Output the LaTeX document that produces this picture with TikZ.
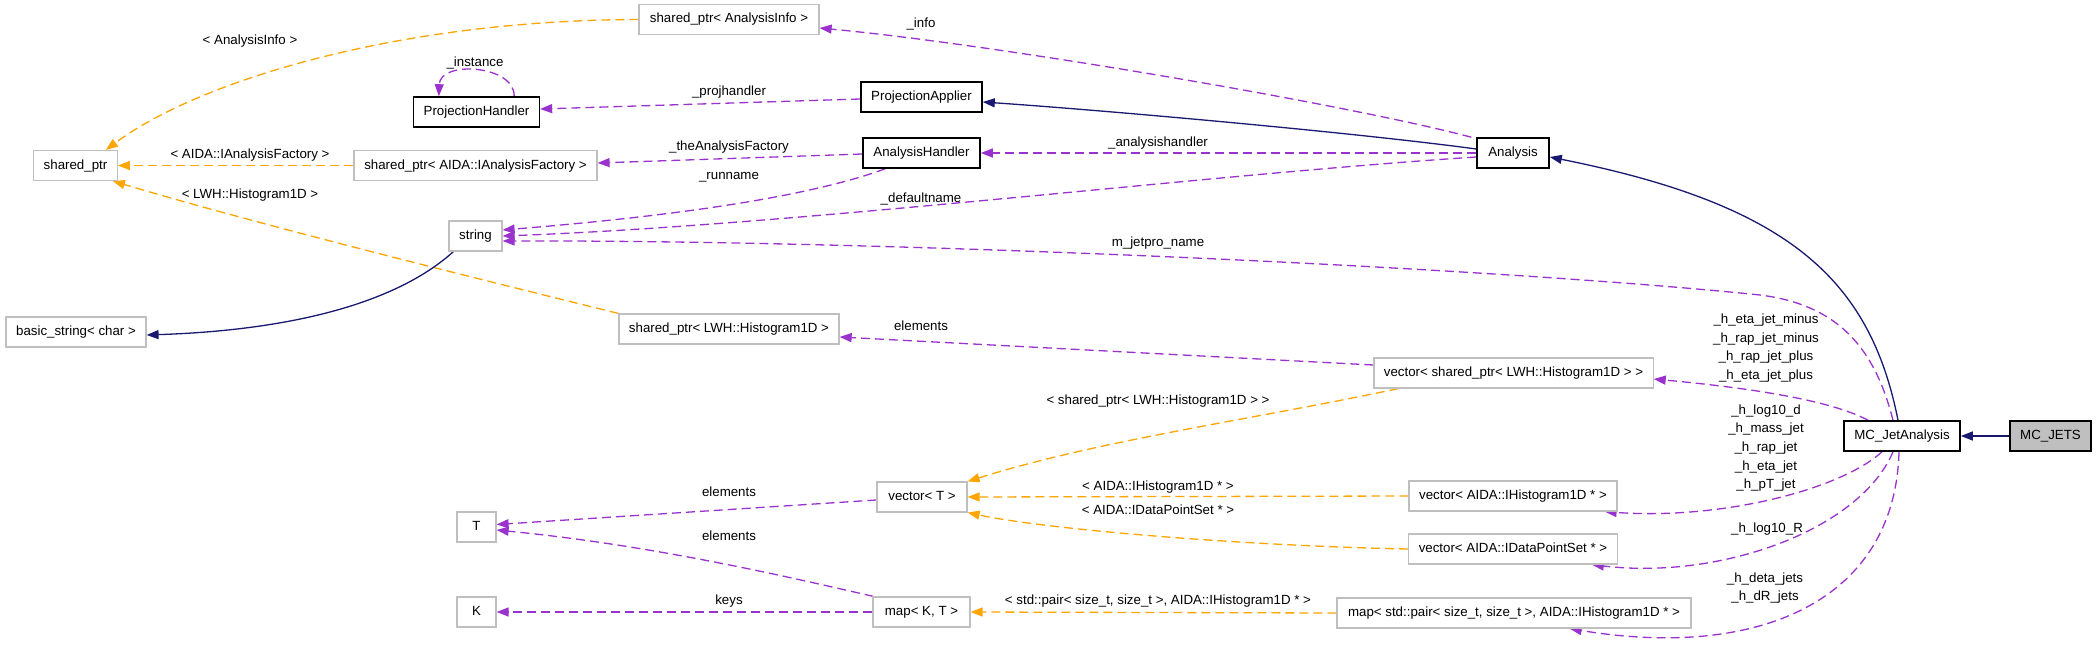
\documentclass[tikz,border=0pt]{standalone}
\usepackage{fontspec}
\setmainfont{Liberation Sans}
\usetikzlibrary{arrows.meta,calc}
\definecolor{purp}{HTML}{9A32CD}
\definecolor{orng}{HTML}{FFA500}
\definecolor{mblue}{HTML}{191970}
\definecolor{gbord}{HTML}{BFBFBF}
\pgfdeclarelayer{back}
\pgfdeclarelayer{edges}
\pgfsetlayers{back,edges,main}
\begin{document}
\begin{tikzpicture}[x=1pt,y=-1pt,
  every node/.style={font=\fontsize{13.3}{18.7}\selectfont},
  cls/.style={draw=gbord, line width=1.2pt, fill=white, minimum height=30pt,
    inner xsep=10pt, inner ysep=0pt, text height=10pt, text depth=3pt},
  doc/.style={cls, draw=black, line width=1.6pt},
  cur/.style={doc, fill=gbord},
  lbl/.style={inner sep=0pt, text height=10pt, text depth=3pt, align=center},
  mlbl/.style={inner sep=0pt, align=center},
  tip/.style={-{Triangle[length=12pt,width=9pt]}},
  pe/.style={tip, draw=purp, line width=1.3pt, dash pattern=on 9pt off 5pt},
  oe/.style={tip, draw=orng, line width=1.3pt, dash pattern=on 9pt off 5pt},
  be/.style={tip, draw=mblue, line width=1.3pt},
]
\begin{pgfonlayer}{back}
\fill[white] (0,0) rectangle (2096,653);
\end{pgfonlayer}
\useasboundingbox (0,0) rectangle (2096,653);

% nodes
\node[cls, minimum width=83pt]  (sp)    at (75.5,165.5) {shared\_ptr};
\node[doc, minimum width=125pt] (ph)    at (476.5,112) {ProjectionHandler};
\node[cls, minimum width=243pt] (spaf)  at (475.5,165.5) {shared\_ptr< AIDA::IAnalysisFactory >};
\node[cls, minimum width=53pt]  (str)   at (475.5,236) {string};
\node[cls, minimum width=180pt] (spai)  at (729,19.5) {shared\_ptr< AnalysisInfo >};
\node[cls, minimum width=140pt] (bs)    at (76,332) {basic\_string< char >};
\node[cls, minimum width=216pt] (splwh) at (729,329) {shared\_ptr< LWH::Histogram1D >};
\node[doc, minimum width=121pt] (pa)    at (921.5,97) {ProjectionApplier};
\node[doc, minimum width=117pt] (ah)    at (921.5,153) {AnalysisHandler};
\node[doc, minimum width=72pt]  (an)    at (1513,153) {Analysis};
\node[doc, minimum width=116pt] (mcja)  at (1902,436) {MC\_JetAnalysis};
\node[cur, minimum width=81pt]  (mcjets) at (2050.5,436) {MC\_JETS};
\node[cls, minimum width=277pt] (vsp)   at (1513.5,373) {vector< shared\_ptr< LWH::Histogram1D > >};
\node[cls, minimum width=208pt] (vih)   at (1513,496) {vector< AIDA::IHistogram1D * >};
\node[cls, minimum width=208pt] (vdps)  at (1513,549) {vector< AIDA::IDataPointSet * >};
\node[cls, minimum width=354pt] (mpair) at (1514,613) {map< std::pair< size\_t, size\_t >, AIDA::IHistogram1D * >};
\node[cls, minimum width=90pt]  (vt)    at (922,497) {vector< T >};
\node[cls, minimum width=97pt]  (mkt)   at (921.5,612) {map< K, T >};
\node[cls, minimum width=39pt]  (T)     at (476.5,527) {T};
\node[cls, minimum width=39pt]  (K)     at (476.5,612) {K};

\begin{pgfonlayer}{edges}
% orange template edges
\draw[oe] (spai.west) .. controls (400,20) and (200,80) .. ([xshift=-12pt]sp.north east);
\draw[oe] (spaf.west) -- (sp.east);
\draw[oe] (splwh.north west) .. controls (450,272) and (250,222) .. ([xshift=-5pt]sp.south east);
\draw[oe] ([xshift=25pt]vsp.south west) .. controls (1250,420) and (1100,440) .. (vt.north east);
\draw[oe] (vih.west) -- (vt.east);
\draw[oe] (vdps.west) .. controls (1250,546) and (1050,530) .. (vt.south east);
\draw[oe] (mpair.west) -- (mkt.east);

% purple usage edges
\draw[pe] ([xshift=-26pt]ph.north east) .. controls (515,65) and (440,60) .. ([xshift=26pt]ph.north west);
\draw[pe] ([yshift=-2pt]pa.west) -- ([yshift=3pt]ph.east);
\draw[pe] ([yshift=-1pt]ah.west) -- ([yshift=2.5pt]spaf.east);
\draw[pe] ([xshift=23pt]ah.south west) .. controls (800,200) and (650,218) .. ([yshift=6pt]str.east);
\draw[pe] ([yshift=-4pt]an.west) .. controls (1200,175) and (800,225) .. (str.east);
\draw[pe] ([xshift=-9pt]mcja.north) .. controls (1875,350) and (1840,305) .. (1760,295)
          .. controls (1500,268) and (900,240) .. ([yshift=-5pt]str.east);
\draw[pe] (an.west) -- (ah.east);
\draw[pe] ([xshift=-5pt]an.north west) .. controls (1350,105) and (1000,45) .. ([yshift=-8.5pt]spai.east);
\draw[pe] ([yshift=8pt]vsp.west) -- ([yshift=-8pt]splwh.east);
\draw[pe] ([xshift=-34pt]mcja.north) .. controls (1830,400) and (1750,388) .. ([yshift=-6pt]vsp.east);
\draw[pe] ([xshift=-20pt]mcja.south) .. controls (1840,490) and (1720,520) .. ([xshift=-13pt]vih.south east);
\draw[pe] ([xshift=-9pt]mcja.south) .. controls (1860,530) and (1720,580) .. ([xshift=-26pt]vdps.south east);
\draw[pe] ([xshift=-3pt]mcja.south) .. controls (1895,600) and (1760,660) .. ([xshift=-122pt]mpair.south east);
\draw[pe] ([yshift=-3pt]vt.west) -- ([yshift=2.5pt]T.east);
\draw[pe] ([xshift=1pt]mkt.north west) .. controls (780,575) and (650,545) .. ([yshift=-3pt]T.east);
\draw[pe] (mkt.west) -- (K.east);

% blue inheritance edges
\draw[be] ([yshift=4pt]an.west) .. controls (1350,132) and (1100,110) .. ([yshift=-5pt]pa.east);
\draw[be] ([xshift=-4pt]mcja.north) .. controls (1870,280) and (1790,205) .. ([yshift=-4pt]an.east);
\draw[be] ([xshift=5pt]str.south west) .. controls (400,300) and (300,330) .. ([yshift=-3pt]bs.east);
\draw[be] (mcjets.west) -- (mcja.east);
\end{pgfonlayer}

% labels
\node[lbl] (l1)  at (250,41)   {< AnalysisInfo >};
\node[lbl] (l2)  at (250,155)  {< AIDA::IAnalysisFactory >};
\node[lbl] (l3)  at (250,195)  {< LWH::Histogram1D >};
\node[lbl] (l4)  at (475,63)   {\_instance};
\node[lbl] (l5)  at (729,92)   {\_projhandler};
\node[lbl] (l6)  at (729,147)  {\_theAnalysisFactory};
\node[lbl] (l7)  at (729,176)  {\_runname};
\node[lbl] (l8)  at (921,24)   {\_info};
\node[lbl] (l9)  at (1158,143) {\_analysishandler};
\node[lbl] (l10) at (921,199)  {\_defaultname};
\node[lbl] (l11) at (1158,243) {m\_jetpro\_name};
\node[lbl] (l12) at (921,327)  {elements};
\node[lbl] (l13) at (1158,401) {< shared\_ptr< LWH::Histogram1D > >};
\node[lbl] (l14) at (1158,487) {< AIDA::IHistogram1D * >};
\node[lbl] (l15) at (1158,511) {< AIDA::IDataPointSet * >};
\node[lbl] (l16) at (1158,601) {< std::pair< size\_t, size\_t >, AIDA::IHistogram1D * >};
\node[lbl] (l17) at (729,493)  {elements};
\node[lbl] (l18) at (729,537)  {elements};
\node[lbl] (l19) at (729,601)  {keys};
\node[mlbl] (l20) at (1766,348) {\_h\_eta\_jet\_minus\\\_h\_rap\_jet\_minus\\\_h\_rap\_jet\_plus\\\_h\_eta\_jet\_plus};
\node[mlbl] (l21) at (1766,448) {\_h\_log10\_d\\\_h\_mass\_jet\\\_h\_rap\_jet\\\_h\_eta\_jet\\\_h\_pT\_jet};
\node[lbl] (l22) at (1767,529) {\_h\_log10\_R};
\node[mlbl] (l23) at (1765,588) {\_h\_deta\_jets\\\_h\_dR\_jets};
\end{tikzpicture}
\end{document}
